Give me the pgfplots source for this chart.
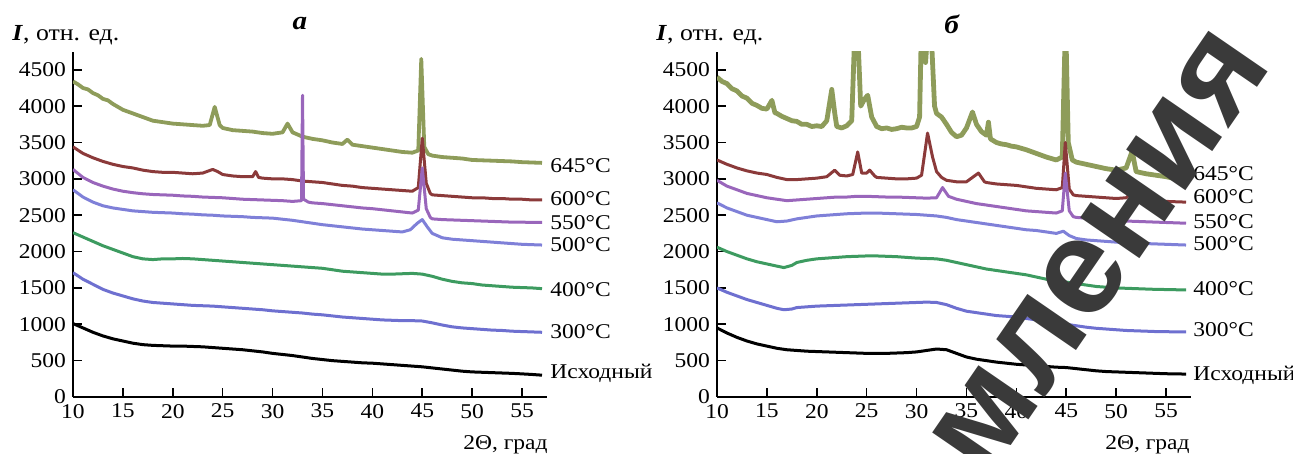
\documentclass[border=0pt]{standalone}
\usepackage{fontspec}
\setmainfont{Liberation Serif}[FakeStretch=1.12]
\newfontfamily\wmfont{Liberation Sans}[Scale=1]
\usepackage{pgfplots}
\pgfplotsset{compat=1.18}
\definecolor{cOl}{HTML}{8E9C5A}
\definecolor{cRd}{HTML}{8B3A3A}
\definecolor{cPu}{HTML}{9966BB}
\definecolor{cBv}{HTML}{7F80D8}
\definecolor{cGr}{HTML}{3D9B60}
\definecolor{cBl}{HTML}{6E70D0}
\definecolor{cWm}{HTML}{3A3A3A}
\tikzset{lab/.style={anchor=west, inner sep=0pt, font=\fontsize{10.5}{12}\selectfont}}
\pgfplotsset{
  xrdaxis/.style={
    scale only axis, width=237pt, height=172.5pt,
    xmin=10, xmax=57.5, ymin=0, ymax=4745,
    axis lines=left, axis line style={-, line width=0.9pt},
    xtick={10,15,...,55}, ytick={0,500,...,4500},
    tick align=inside, major tick length=4.5pt,
    tick style={black, line width=0.8pt},
    minor tick num=0,
    ticklabel style={font=\fontsize{10.5}{12}\selectfont},
    /pgf/number format/assume math mode=true,
    /pgf/number format/1000 sep={},
    clip mode=individual,
    every axis plot/.append style={line width=1.5pt, line join=round},
  },
}
\begin{document}
\begin{tikzpicture}
\useasboundingbox (-36.5pt,-28.5pt) rectangle (610pt,198.5pt);
% ---------------- panel a ----------------
\begin{axis}[xrdaxis, at={(0pt,0pt)}, anchor=south west]
\addplot[cOl, line width=1.9pt] coordinates {(10,4340)(10.5,4300)(11,4250)(11.5,4230)(12,4180)(12.5,4150)(13,4100)(13.5,4080)(14,4030)(14.5,3990)(15,3950)(16,3900)(17,3850)(18,3800)(19,3780)(20,3760)(21,3750)(22,3740)(23,3730)(23.7,3740)(24.2,3990)(24.7,3740)(25,3700)(26,3670)(27,3660)(28,3650)(29,3630)(30,3620)(31,3640)(31.5,3760)(32,3640)(33,3580)(34,3550)(35,3530)(36,3500)(37,3480)(37.5,3540)(38,3470)(39,3450)(40,3430)(41,3410)(42,3390)(43,3370)(44,3360)(44.6,3390)(44.9,4650)(45.2,3440)(45.6,3340)(46,3320)(47,3300)(48,3290)(49,3280)(50,3260)(51,3255)(52,3250)(53,3245)(54,3240)(55,3230)(56,3225)(57,3220)};
\addplot[cRd] coordinates {(10,3440)(11,3350)(12,3290)(13,3240)(14,3200)(15,3170)(16,3150)(17,3120)(18,3100)(19,3090)(20,3090)(21,3080)(22,3070)(23,3080)(24,3130)(24.5,3100)(25,3060)(26,3040)(27,3030)(28,3030)(28.3,3100)(28.6,3020)(29,3010)(30,3000)(31,3000)(32,2990)(33,2970)(34,2960)(35,2950)(36,2930)(37,2910)(38,2900)(39,2880)(40,2870)(41,2860)(42,2850)(43,2840)(44,2830)(44.6,2880)(45,3560)(45.4,2940)(45.8,2800)(46,2780)(47,2770)(48,2760)(49,2750)(50,2740)(51,2740)(52,2730)(53,2730)(54,2720)(55,2720)(56,2710)(57,2710)};
\addplot[cPu] coordinates {(10,3130)(11,3020)(12,2950)(13,2900)(14,2860)(15,2830)(16,2810)(17,2795)(18,2785)(19,2780)(20,2775)(21,2765)(22,2760)(23,2750)(24,2745)(25,2740)(26,2730)(27,2720)(28,2715)(29,2710)(30,2705)(31,2700)(32,2690)(32.9,2700)(33,4150)(33.1,2720)(33.6,2680)(34,2670)(35,2660)(36,2645)(37,2630)(38,2615)(39,2600)(40,2590)(41,2575)(42,2560)(43,2545)(44,2530)(44.6,2570)(45,3150)(45.4,2590)(45.8,2470)(46,2450)(47,2440)(48,2435)(49,2430)(50,2425)(51,2420)(52,2415)(53,2410)(54,2405)(55,2405)(56,2400)(57,2400)};
\addplot[cBv] coordinates {(10,2850)(11,2750)(12,2680)(13,2630)(14,2600)(15,2580)(16,2560)(17,2550)(18,2540)(19,2535)(20,2530)(21,2520)(22,2515)(23,2505)(24,2500)(25,2490)(26,2485)(27,2480)(28,2470)(29,2465)(30,2460)(31,2445)(32,2430)(33,2410)(34,2390)(35,2370)(36,2355)(37,2340)(38,2325)(39,2310)(40,2300)(41,2290)(42,2280)(43,2270)(43.8,2300)(44.5,2390)(45,2440)(45.5,2340)(46,2250)(47,2190)(48,2170)(49,2160)(50,2150)(51,2140)(52,2130)(53,2120)(54,2110)(55,2100)(56,2095)(57,2090)};
\addplot[cGr] coordinates {(10,2260)(11,2200)(12,2140)(13,2080)(14,2030)(15,1980)(16,1930)(17,1900)(18,1890)(19,1900)(20,1900)(21,1905)(22,1900)(23,1890)(24,1880)(25,1870)(26,1860)(27,1850)(28,1840)(29,1830)(30,1820)(31,1810)(32,1800)(33,1790)(34,1780)(35,1770)(36,1750)(37,1730)(38,1720)(39,1710)(40,1700)(41,1690)(42,1690)(43,1695)(44,1700)(45,1690)(46,1660)(47,1620)(48,1590)(49,1570)(50,1560)(51,1540)(52,1530)(53,1520)(54,1510)(55,1505)(56,1500)(57,1490)};
\addplot[cBl] coordinates {(10,1710)(11,1620)(12,1550)(13,1480)(14,1430)(15,1390)(16,1350)(17,1320)(18,1300)(19,1290)(20,1280)(21,1270)(22,1260)(23,1255)(24,1250)(25,1240)(26,1230)(27,1220)(28,1210)(29,1200)(30,1185)(31,1175)(32,1165)(33,1155)(34,1140)(35,1130)(36,1115)(37,1100)(38,1090)(39,1080)(40,1070)(41,1060)(42,1055)(43,1050)(44,1050)(45,1045)(46,1020)(47,990)(48,965)(49,950)(50,940)(51,930)(52,920)(53,915)(54,905)(55,900)(56,895)(57,890)};
\addplot[black] coordinates {(10,1010)(11,950)(12,890)(13,840)(14,800)(15,770)(16,740)(17,720)(18,710)(19,705)(20,700)(21,700)(22,695)(23,690)(24,680)(25,670)(26,660)(27,650)(28,635)(29,620)(30,600)(31,585)(32,570)(33,550)(34,530)(35,515)(36,500)(37,490)(38,480)(39,470)(40,465)(41,455)(42,445)(43,435)(44,425)(45,415)(46,400)(47,385)(48,370)(49,355)(50,345)(51,340)(52,335)(53,330)(54,325)(55,318)(56,310)(57,300)};
\node[lab] at (axis cs:57.8,3184) {645°C};
\node[lab] at (axis cs:57.8,2730) {600°C};
\node[lab] at (axis cs:57.8,2400) {550°C};
\node[lab] at (axis cs:57.8,2090) {500°C};
\node[lab] at (axis cs:57.8,1479) {400°C};
\node[lab] at (axis cs:57.8,894) {300°C};
\node[lab] at (axis cs:57.8,323) {Исходный};
\end{axis}
% ---------------- panel b ----------------
\begin{axis}[xrdaxis, at={(322pt,0pt)}, anchor=south west]
\addplot[cOl, line width=2.4pt] coordinates {(10,4400)(10.5,4340)(11,4310)(11.5,4240)(12,4210)(12.5,4140)(13,4110)(13.5,4040)(14,4010)(14.5,3970)(15,3960)(15.5,4080)(15.8,3910)(16,3900)(16.5,3860)(17,3830)(17.5,3800)(18,3790)(18.5,3750)(19,3750)(19.5,3720)(20,3730)(20.5,3720)(21,3800)(21.5,4230)(21.8,3900)(22,3720)(22.5,3700)(23,3730)(23.5,3800)(23.85,5200)(24.05,5200)(24.4,4000)(24.8,4100)(25.1,4150)(25.5,3850)(26,3720)(26.5,3690)(27,3700)(27.5,3680)(28,3690)(28.5,3710)(29,3700)(29.5,3700)(30,3720)(30.3,3850)(30.5,5200)(30.65,5200)(30.9,4600)(31.2,5200)(31.4,5200)(31.8,4000)(32,3900)(32.5,3850)(33,3750)(33.5,3640)(34,3580)(34.5,3600)(35,3700)(35.6,3920)(36,3750)(36.5,3650)(37,3600)(37.2,3780)(37.4,3550)(38,3500)(38.5,3480)(39,3470)(39.5,3450)(40,3440)(41,3400)(42,3350)(43,3300)(44,3260)(44.6,3300)(44.85,4760)(45,4760)(45.2,3500)(45.6,3260)(46,3230)(47,3200)(48,3170)(49,3140)(50,3120)(51,3150)(51.6,3380)(52,3100)(53,3070)(54,3050)(55,3030)(56,3000)(57,2980)};
\addplot[cRd] coordinates {(10,3260)(11,3200)(12,3150)(13,3110)(14,3080)(15,3060)(16,3020)(17,2990)(18,2990)(19,3000)(20,3010)(21,3030)(21.8,3120)(22.3,3050)(23,3040)(23.6,3060)(24.1,3370)(24.5,3080)(25,3080)(25.3,3120)(25.8,3040)(26,3020)(27,3010)(28,3000)(29,3000)(30,3010)(30.5,3050)(31.1,3630)(31.6,3300)(32,3100)(32.5,3020)(33,2980)(34,2960)(35,2960)(36.2,3080)(36.8,2960)(37,2950)(38,2930)(39,2920)(40,2910)(41,2890)(42,2870)(43,2860)(44,2850)(44.6,2880)(44.9,3500)(45.3,2860)(45.7,2780)(46,2770)(47,2760)(48,2750)(49,2740)(50,2730)(51,2740)(51.5,2800)(52,2730)(53,2710)(54,2700)(55,2690)(56,2685)(57,2680)};
\addplot[cPu] coordinates {(10,2980)(11,2900)(12,2850)(13,2800)(14,2770)(15,2740)(16,2720)(17,2700)(18,2710)(19,2720)(20,2730)(21,2740)(22,2750)(23,2750)(24,2760)(25,2760)(26,2755)(27,2750)(28,2750)(29,2745)(30,2740)(31,2735)(32,2740)(32.6,2880)(33.2,2760)(34,2720)(35,2690)(36,2660)(37,2640)(38,2620)(39,2600)(40,2580)(41,2560)(42,2550)(43,2540)(44,2530)(44.6,2560)(44.9,3080)(45.3,2560)(45.7,2480)(46,2470)(47,2460)(48,2450)(49,2440)(50,2430)(51,2420)(52,2415)(53,2410)(54,2405)(55,2400)(56,2395)(57,2390)};
\addplot[cBv] coordinates {(10,2670)(11,2600)(12,2550)(13,2500)(14,2470)(15,2440)(16,2410)(17,2420)(18,2450)(19,2470)(20,2490)(21,2500)(22,2510)(23,2520)(24,2525)(25,2530)(26,2530)(27,2525)(28,2520)(29,2515)(30,2510)(31,2500)(32,2490)(33,2470)(34,2440)(35,2420)(36,2400)(37,2380)(38,2360)(39,2340)(40,2320)(41,2300)(42,2290)(43,2270)(44,2250)(44.7,2280)(45.3,2220)(46,2180)(47,2160)(48,2150)(49,2140)(50,2130)(51,2120)(52,2115)(53,2110)(54,2105)(55,2100)(56,2095)(57,2090)};
\addplot[cGr] coordinates {(10,2060)(11,2000)(12,1950)(13,1900)(14,1860)(15,1830)(16,1800)(16.7,1780)(17.5,1810)(18,1850)(19,1880)(20,1900)(21,1910)(22,1920)(23,1930)(24,1935)(25,1940)(26,1940)(27,1935)(28,1930)(29,1920)(30,1910)(31,1905)(32,1900)(33,1880)(34,1850)(35,1820)(36,1790)(37,1760)(38,1740)(39,1720)(40,1700)(41,1680)(42,1650)(43,1620)(44,1600)(45,1580)(46,1560)(47,1540)(48,1520)(49,1510)(50,1500)(51,1495)(52,1490)(53,1485)(54,1480)(55,1478)(56,1475)(57,1472)};
\addplot[cBl] coordinates {(10,1500)(11,1440)(12,1390)(13,1340)(14,1300)(15,1260)(16,1220)(16.7,1200)(17.5,1210)(18,1230)(19,1240)(20,1250)(21,1255)(22,1260)(23,1265)(24,1270)(25,1275)(26,1280)(27,1285)(28,1290)(29,1295)(30,1300)(31,1305)(32,1300)(33,1270)(34,1220)(35,1180)(36,1160)(37,1140)(38,1120)(39,1110)(40,1100)(41,1080)(42,1060)(43,1040)(44,1020)(45,1000)(46,980)(47,960)(48,945)(49,935)(50,925)(51,915)(52,910)(53,905)(54,900)(55,898)(56,896)(57,894)};
\addplot[black] coordinates {(10,950)(11,880)(12,820)(13,770)(14,730)(15,700)(16,670)(17,650)(18,640)(19,630)(20,625)(21,620)(22,615)(23,610)(24,605)(25,600)(26,600)(27,600)(28,605)(29,610)(30,620)(31,640)(32,660)(33,650)(34,600)(35,550)(36,520)(37,500)(38,480)(39,465)(40,450)(41,440)(42,430)(43,420)(44,410)(45,405)(46,390)(47,375)(48,360)(49,350)(50,345)(51,340)(52,335)(53,330)(54,325)(55,320)(56,318)(57,315)};
\node[lab] at (axis cs:57.7,3073) {645°C};
\node[lab] at (axis cs:57.7,2757) {600°C};
\node[lab] at (axis cs:57.7,2414) {550°C};
\node[lab] at (axis cs:57.7,2111) {500°C};
\node[lab] at (axis cs:57.7,1493) {400°C};
\node[lab] at (axis cs:57.7,922) {300°C};
\node[lab] at (axis cs:57.7,303) {Исходный};
\end{axis}
% ---------------- texts ----------------
\node[anchor=west, inner sep=0pt, font=\fontsize{11.5}{12}\selectfont] at (-30.5pt,181pt) {\textbf{\textit{I}}, отн. ед.};
\node[anchor=west, inner sep=0pt, font=\fontsize{11.5}{12}\selectfont] at (291.5pt,181pt) {\textbf{\textit{I}}, отн. ед.};
\node[inner sep=0pt, font=\fontsize{13}{14}\selectfont] at (113.5pt,186.5pt) {\textbf{\textit{а}}};
\node[inner sep=0pt, font=\fontsize{13}{14}\selectfont] at (439.5pt,186.5pt) {\textbf{\textit{б}}};
\node[anchor=base east, inner sep=0pt, font=\fontsize{10.5}{12}\selectfont] at (237.5pt,-26.5pt) {2Θ, град};
\node[anchor=base east, inner sep=0pt, font=\fontsize{10.5}{12}\selectfont] at (558.5pt,-26.5pt) {2Θ, град};
% watermark
\node[rotate=55.5, inner sep=0pt, text=cWm, font=\wmfont\bfseries\fontsize{68}{70}\selectfont] at (502pt,55.5pt) {омления};
\end{tikzpicture}
\end{document}
